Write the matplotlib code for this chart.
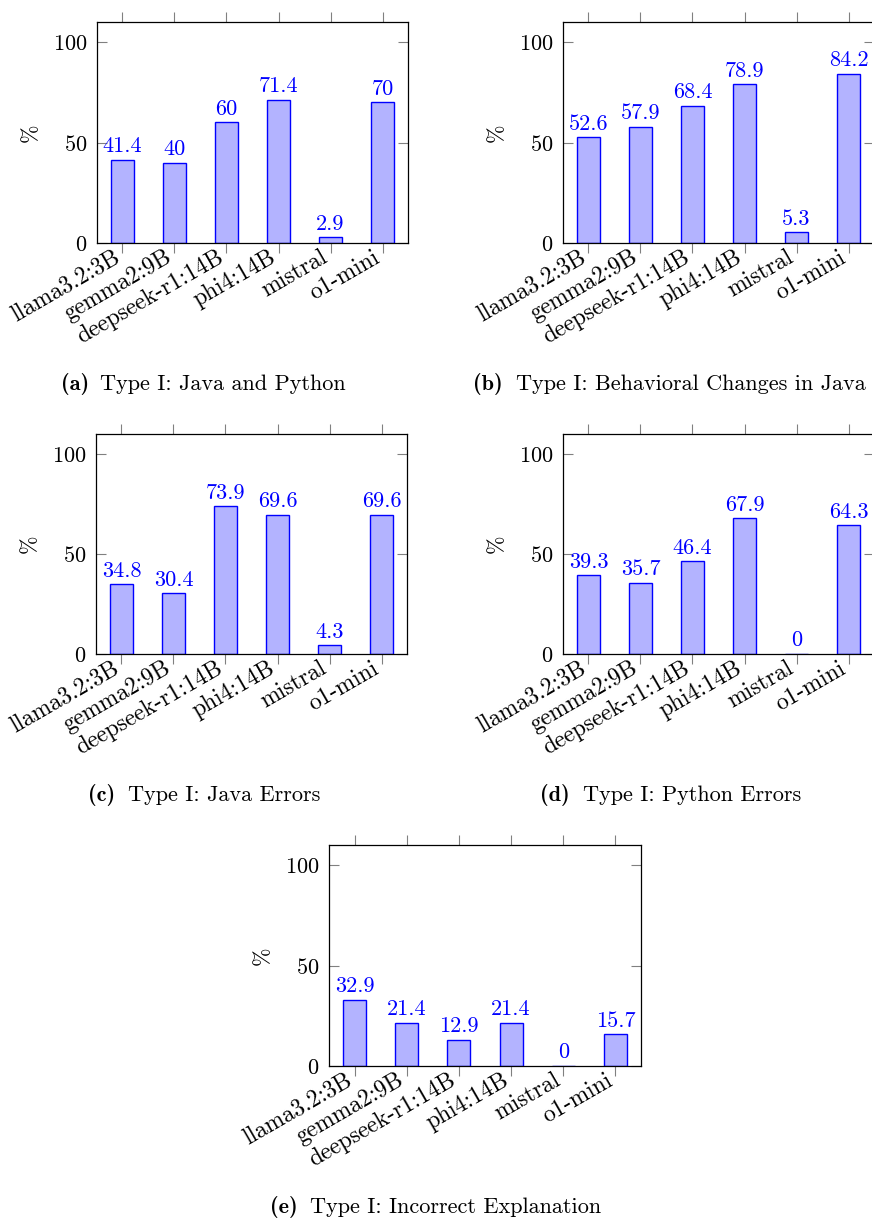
import matplotlib
matplotlib.use("Agg")
import matplotlib.pyplot as plt
import matplotlib.transforms as mtrans

plt.rcParams['font.family'] = 'cmr10'
plt.rcParams['axes.formatter.use_mathtext'] = True

models = ["llama3.2:3B", "gemma2:9B", "deepseek-r1:14B", "phi4:14B", "mistral", "o1-mini"]

java_python = [41.4, 40, 60, 71.4, 2.9, 70]
behavioral_java = [52.6, 57.9, 68.4, 78.9, 5.3, 84.2]
java_errors = [34.8, 30.4, 73.9, 69.6, 4.3, 69.6]
python_errors = [39.3, 35.7, 46.4, 67.9, 0, 64.3]
incorrect_expl = [32.9, 21.4, 12.9, 21.4, 0, 15.7]

captions = [
    ("(a)", "Type I: Java and Python"),
    ("(b)", "Type I: Behavioral Changes in Java"),
    ("(c)", "Type I: Java Errors"),
    ("(d)", "Type I: Python Errors"),
    ("(e)", "Type I: Incorrect Explanation"),
]
series = [java_python, behavioral_java, java_errors, python_errors, incorrect_expl]

W, H = 872, 1220
FS = 16
# axes boxes in pixels: left, top, width, height
boxes = [(97, 22, 311, 221), (563, 22, 311, 221),
         (96, 434, 311, 220), (563, 434, 311, 220),
         (329, 845, 312, 221)]
# caption: right edge of bold part, left edge of text, baseline (pixels)
cap_pos = [(89, 100, 390), (503, 516, 390),
           (115, 128, 801), (570, 583, 801),
           (298, 310, 1213)]

fig = plt.figure(figsize=(W / 100, H / 100), dpi=100)
# nudge rotated x labels a few pixels left and up
shift = mtrans.ScaledTranslation(-0.045, 0.06, fig.dpi_scale_trans)

for vals, (l, t, w, h), (lab, txt), (xb, xt, yb) in zip(series, boxes, captions, cap_pos):
    ax = fig.add_axes([l / W, 1 - (t + h) / H, w / W, h / H])
    x = range(len(models))
    bars = ax.bar(x, vals, width=0.44, color='#b3b3ff', edgecolor='blue', linewidth=1.0)
    for b, v in zip(bars, vals):
        ax.annotate(f"{v:g}", (b.get_x() + b.get_width() / 2, v),
                    xytext=(0, 5.5), textcoords='offset points',
                    ha='center', va='baseline', color='blue', fontsize=FS)
    ax.set_xlim(-0.49, 5.49)
    ax.set_ylim(0, 110)
    ax.set_yticks([0, 50, 100])
    ax.set_xticks(list(x))
    ax.set_xticklabels(models, rotation=30, ha='right', va='center',
                       rotation_mode='anchor', fontsize=17)
    ax.tick_params(axis='y', direction='in', left=True, right=True, length=7.5,
                   width=0.8, color='0.5', labelsize=FS, pad=7)
    ax.tick_params(axis='x', direction='out', top=True, bottom=True, length=7.5,
                   width=0.8, color='0.5', pad=6)
    # after tick_params, otherwise the label transform gets reset
    for lbl in ax.get_xticklabels():
        lbl.set_transform(lbl.get_transform() + shift)
    for s in ax.spines.values():
        s.set_linewidth(0.9)
    ax.text(-0.212, 0.5, "%", rotation=90, transform=ax.transAxes,
            ha='center', va='center', fontsize=FS)
    fig.text(xb / W, 1 - yb / H, lab, ha='right', va='baseline',
             fontsize=FS, family='cmb10')
    fig.text(xt / W, 1 - yb / H, txt, ha='left', va='baseline', fontsize=FS)

fig.savefig("out.png", dpi=100)
